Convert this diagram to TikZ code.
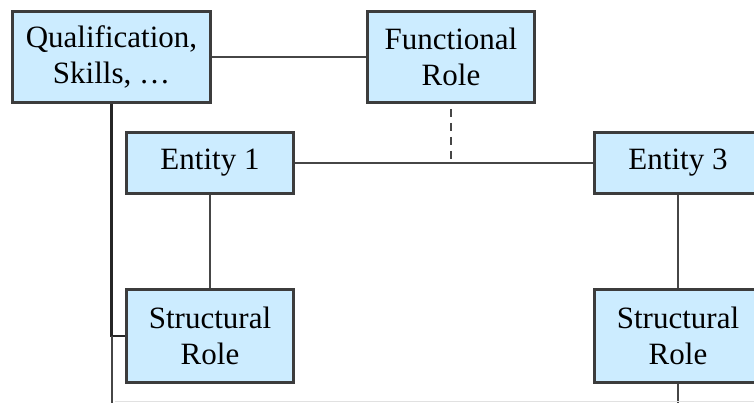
\documentclass[tikz,border=0pt]{standalone}
\usepackage{fontspec}
\setmainfont{Liberation Serif}
\definecolor{boxfill}{RGB}{204,236,255}
\definecolor{boxline}{RGB}{60,60,60}
\definecolor{linkline}{RGB}{70,70,70}
\definecolor{faintline}{RGB}{225,225,225}
\tikzset{
  rolebox/.style={draw=boxline, line width=2pt, fill=boxfill, rectangle,
    inner sep=0pt, align=center, font=\fontsize{31}{36}\selectfont},
  link/.style={draw=linkline, line width=2pt},
  mainlink/.style={draw=black!85, line width=2.4pt},
  duallink/.style={draw=linkline, line width=2pt, dash pattern=on 8pt off 6pt, dash phase=8pt},
}
\begin{document}
\begin{tikzpicture}[x=1pt,y=-1pt]
  \clip (0,0) rectangle (754,403);
  \fill[white] (0,0) rectangle (754,403);

  % role and entity boxes
  \node[rolebox, minimum width=197pt, minimum height=90pt] (qual) at (111.5,57) {Qualification,\\Skills, \dots};
  \node[rolebox, minimum width=166pt, minimum height=90pt] (func) at (451,57) {Functional\\Role};
  \node[rolebox, minimum width=166pt, minimum height=60pt] (ent1) at (210,163) {Entity 1};
  \node[rolebox, minimum width=166pt, minimum height=60pt] (ent3) at (678,163) {Entity 3};
  \node[rolebox, minimum width=166pt, minimum height=92pt] (str1) at (210,336) {Structural\\Role};
  \node[rolebox, minimum width=166pt, minimum height=92pt] (str3) at (678,336) {Structural\\Role};

  % free ends leaving the drawing at the bottom
  \coordinate (qualend) at (qual.south |- 0,410);
  \coordinate (str3end) at (str3.south |- 0,410);
  \coordinate (baseL) at (115,401.5);
  \coordinate (baseR) at (760,401.5);

  % connectors
  \draw[link] (qual.east) -- (func.west);
  \draw[link] (ent1.east) -- (ent3.west);
  \draw[duallink] (func.south) -- (func.south |- ent1.east);
  \draw[link] (ent1.south) -- (str1.north);
  \draw[link] (ent3.south) -- (str3.north);
  \draw[mainlink] (qual.south) |- (str1.west);
  \draw[link] (qual.south |- str1.west) -- (qualend);
  \draw[link] (str3.south) -- (str3end);
  \draw[faintline, line width=1pt] (baseL) -- (baseR);

  % boxes drawn again on top of the connector ends
  \foreach \n in {qual,func,ent1,ent3,str1,str3}
    \draw[boxline, line width=2pt] (\n.north west) rectangle (\n.south east);
\end{tikzpicture}
\end{document}
